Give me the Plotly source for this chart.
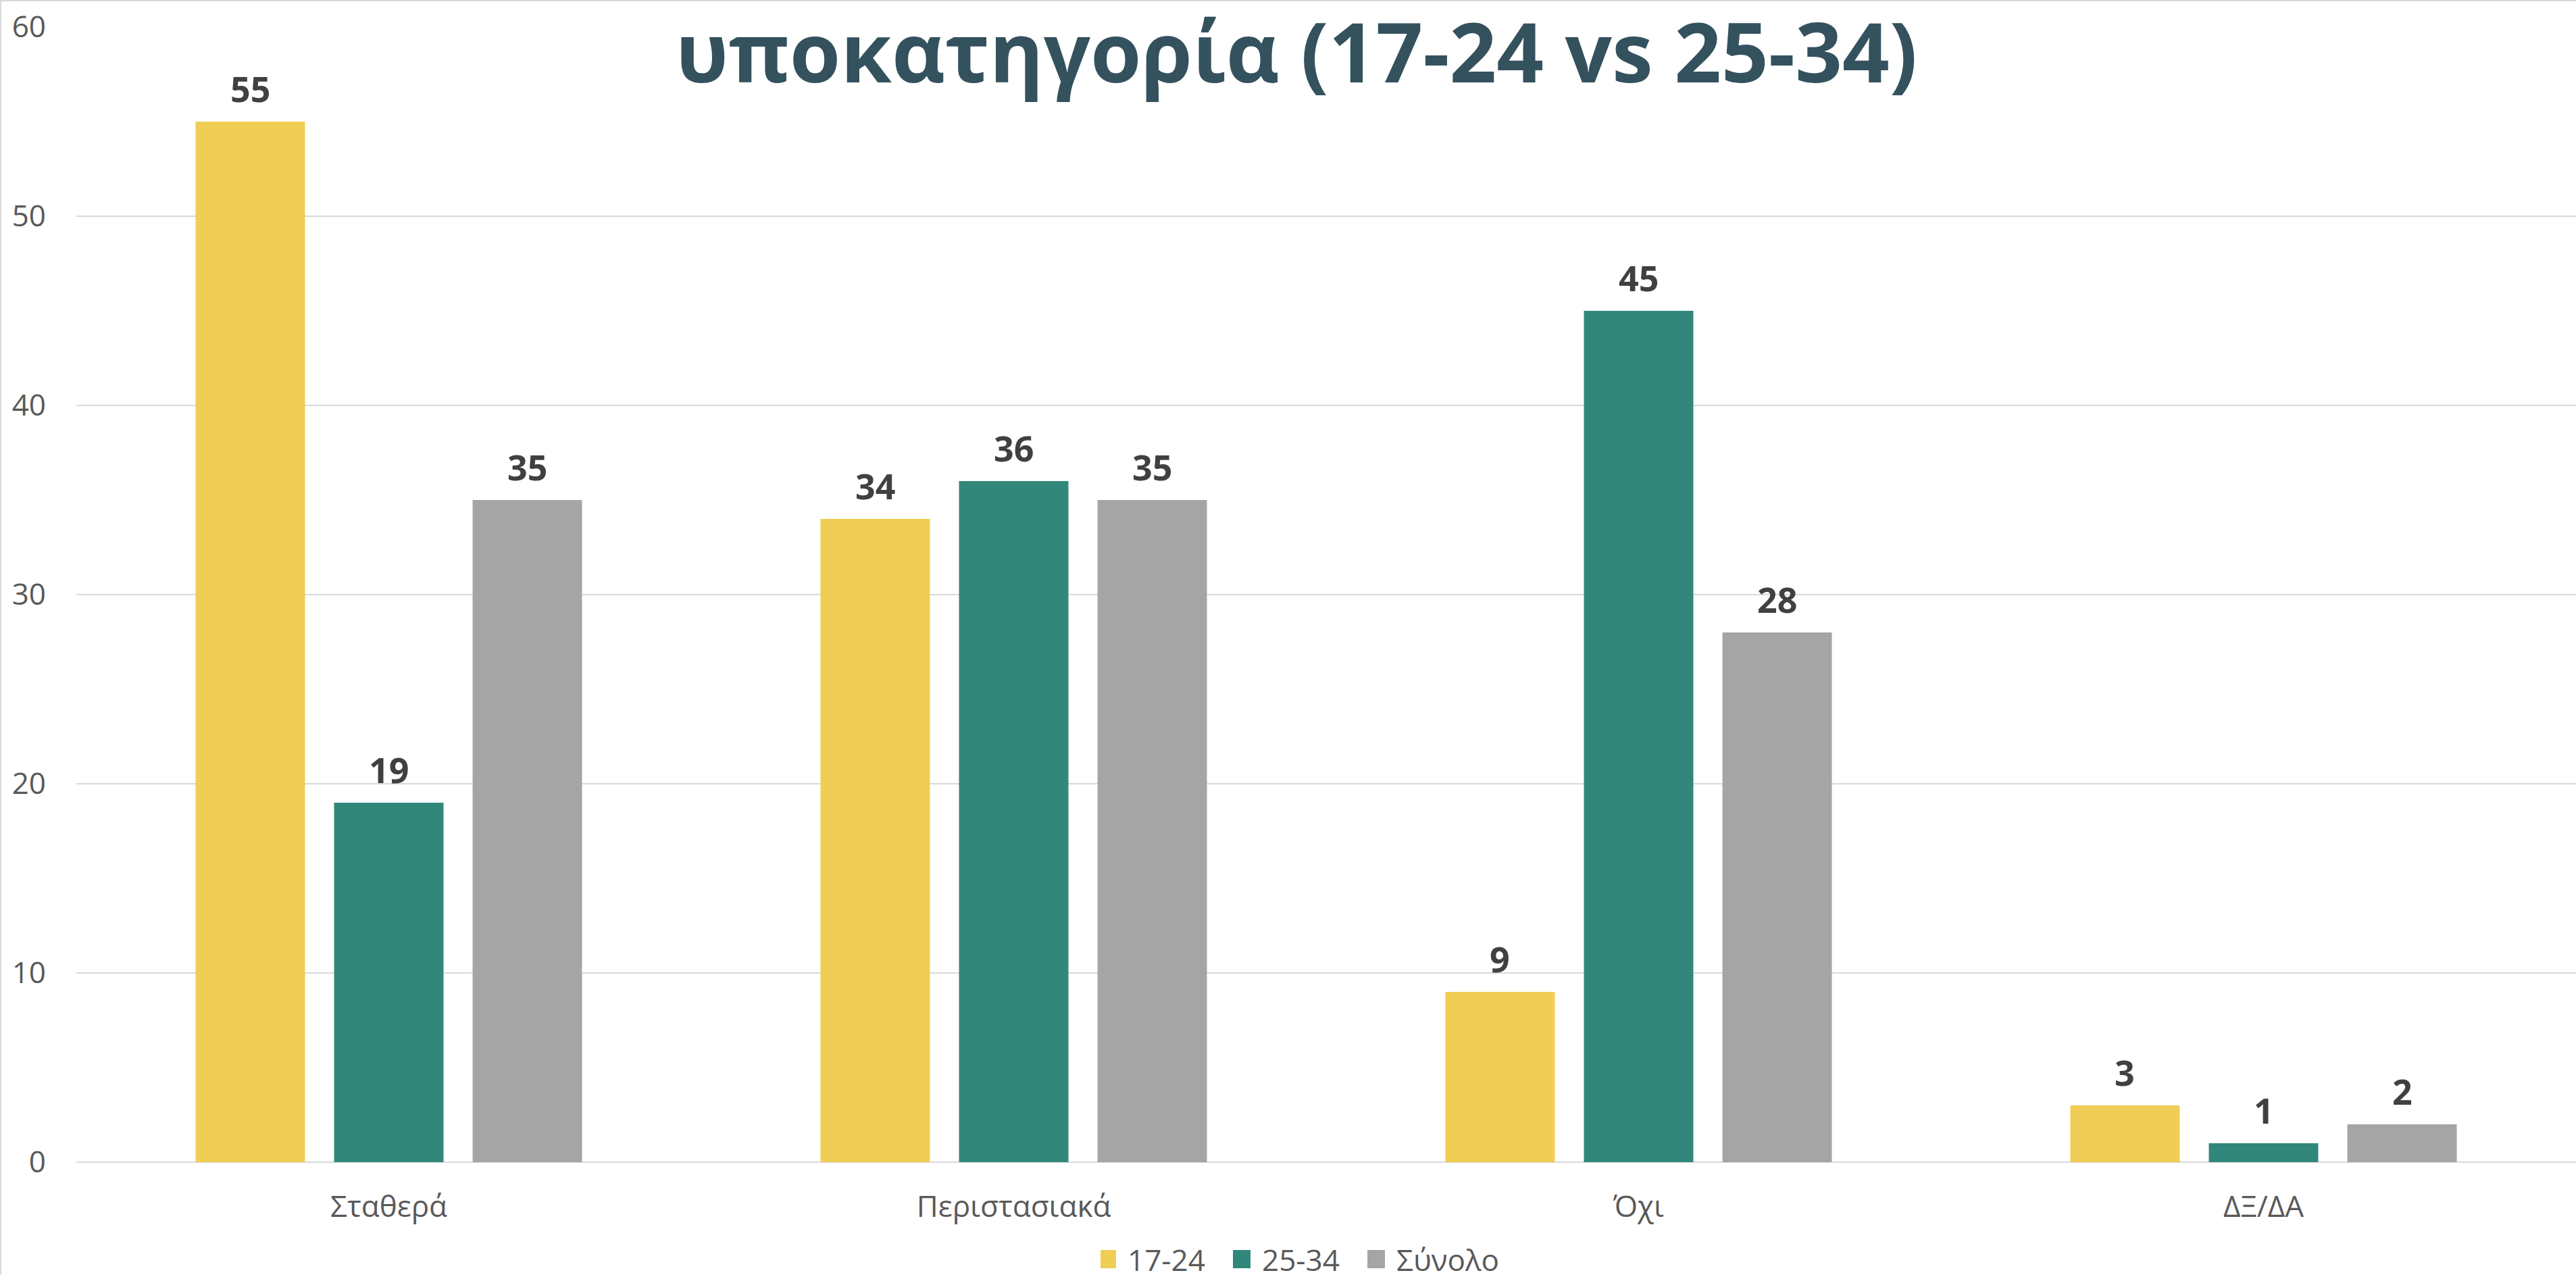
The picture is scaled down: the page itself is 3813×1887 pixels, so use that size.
import plotly.graph_objects as go

categories = ["Σταθερά", "Περιστασιακά", "Όχι", "ΔΞ/ΔΑ"]
series_names = ["17-24", "25-34", "Σύνολο"]
vals_17_24 = [55, 34, 9, 3]
vals_25_34 = [19, 36, 45, 1]
vals_total = [35, 35, 28, 2]
y_ticks = [0, 10, 20, 30, 40, 50, 60]
title_text = "υποκατηγορία (17-24 vs 25-34)"

colors = ["#F0CD55", "#31887A", "#A5A5A5"]
all_vals = [vals_17_24, vals_25_34, vals_total]

W, H = 3813, 1887
ML, MR, MT, MB = 113, 0, 40, 167
PW = W - ML - MR
PH = H - MT - MB


def px_to_paper_x(px):
    return (px - ML) / PW


def px_to_paper_y(py):
    return (MT + PH - py) / PH


fig = go.Figure()
for name, vals, col in zip(series_names, all_vals, colors):
    fig.add_trace(go.Bar(
        x=categories, y=vals, name=name,
        marker=dict(color=col, line=dict(width=0)),
    ))

# value labels above bars
slot_px = PW / len(categories) * (1 - 0.335) / 3
for i, vals in enumerate(all_vals):
    for c, v in zip(categories, vals):
        fig.add_annotation(
            x=c, y=v, xref="x", yref="y", text=str(v), showarrow=False,
            xshift=(i - 1) * slot_px, yshift=12, yanchor="bottom",
            font=dict(family="Open Sans", size=52, color="#404040", weight="bold"),
        )

# title
fig.add_annotation(
    xref="paper", yref="paper", x=px_to_paper_x(1919), y=px_to_paper_y(75),
    text=title_text, showarrow=False, xanchor="center", yanchor="middle",
    font=dict(family="Open Sans", size=122, color="#34515E", weight="bold"),
)

# chart-area border (top and left)
fig.add_shape(type="line", xref="paper", yref="paper",
              x0=px_to_paper_x(1), x1=px_to_paper_x(1),
              y0=px_to_paper_y(0), y1=px_to_paper_y(H),
              line=dict(color="#D9D9D9", width=2))
fig.add_shape(type="line", xref="paper", yref="paper",
              x0=px_to_paper_x(0), x1=px_to_paper_x(W),
              y0=px_to_paper_y(1), y1=px_to_paper_y(1),
              line=dict(color="#D9D9D9", width=2))

fig.update_layout(
    width=W, height=H,
    margin=dict(l=ML, r=MR, t=MT, b=MB, autoexpand=False),
    paper_bgcolor="white", plot_bgcolor="white",
    barmode="group", bargap=0.335, bargroupgap=0.21,
    font=dict(family="Open Sans", color="#595959"),
    showlegend=True,
    legend=dict(
        orientation="h", xanchor="left", yanchor="middle",
        x=px_to_paper_x(1629), y=px_to_paper_y(1864),
        font=dict(family="Open Sans", size=44, color="#595959"),
        entrywidth=154, entrywidthmode="pixels",
        bgcolor="rgba(0,0,0,0)",
    ),
    xaxis=dict(
        showgrid=False, showline=False, zeroline=False, ticks="",
        tickfont=dict(family="Open Sans", size=44, color="#595959"),
        ticklabelstandoff=36,
    ),
    yaxis=dict(
        range=[0, 60], tickvals=y_ticks, showgrid=True,
        gridcolor="#D9D9D9", gridwidth=1.5,
        zeroline=True, zerolinecolor="#D9D9D9", zerolinewidth=1.5,
        showline=False, ticks="",
        tickfont=dict(family="Open Sans", size=44, color="#595959"),
        ticklabelstandoff=44,
    ),
)

post = """
document.body.style.margin = '0px';
document.body.style.overflow = 'hidden';
document.querySelectorAll('.legend .legendpoints path').forEach(function(p){
  p.setAttribute('d', 'M3,13.5H-23V-13.5H3Z');
});
"""

fig.write_html("out.html", post_script=post, config={"displayModeBar": False})
